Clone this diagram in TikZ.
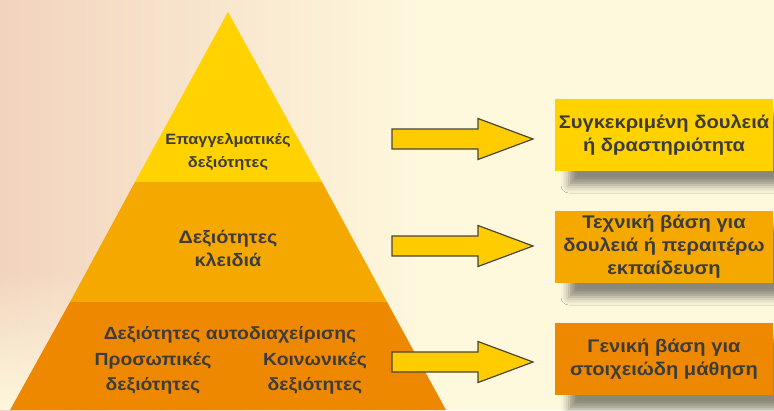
\documentclass[tikz,border=0pt]{standalone}
\usepackage{fontspec}
\setmainfont{Liberation Sans}[FakeStretch=1.1]
\usetikzlibrary{positioning,shadows.blur,fadings}

\definecolor{tierTop}{HTML}{FFD200}
\definecolor{tierMid}{HTML}{F5A800}
\definecolor{tierLow}{HTML}{EE8800}
\definecolor{arrowFill}{HTML}{FFCC00}
\definecolor{inkGray}{HTML}{3C3C3C}
\definecolor{arrowEdge}{HTML}{4A4638}
\definecolor{creamBg}{HTML}{FEF8DD}
\definecolor{peachBg}{HTML}{F2D3BE}

\tikzset{
    pics/fatarrow/.style={code={
        \draw[draw=arrowEdge, line width=1.2pt, fill=arrowFill, line join=miter]
            (0,-10) -- (86,-10) -- (86,-20.5) -- (141,0) -- (86,20.5)
            -- (86,10) -- (0,10) -- cycle;
    }}
}

\begin{document}
\begin{tikzpicture}[x=1pt,y=-1pt,
        tiertext/.style={font=\bfseries\fontsize{18}{23}\selectfont, text=inkGray,
                        align=center, inner sep=0pt},
        toptext/.style={tiertext, font=\bfseries\fontsize{14.9}{23}\selectfont},
        lowtext/.style={tiertext, font=\bfseries\fontsize{17.6}{25}\selectfont},
        goalbox/.style={tiertext, font=\bfseries\fontsize{18.3}{23}\selectfont,
                        minimum width=218pt, minimum height=72pt,
                        blur shadow={shadow xshift=14pt, shadow yshift=-14pt,
                                     shadow opacity=45, shadow blur radius=8pt}}]
    \useasboundingbox (0,0) rectangle (774,410);
    \fill[creamBg] (0,0) rectangle (774,410);
    \shade[left color=peachBg, right color=creamBg] (0,0) rectangle (420,410);
    \fill[creamBg, path fading=north] (0,270) rectangle (140,410);

    % pyramid corners
    \coordinate (apex) at (228,12);
    \coordinate (tl) at (135,182);
    \coordinate (tr) at (322,182);
    \coordinate (ml) at (70,302);
    \coordinate (mr) at (387,302);
    \coordinate (bl) at (10,410);
    \coordinate (br) at (446,410);

    \fill[tierTop] (apex) -- (tr) -- (tl) -- cycle;
    \fill[tierMid] (tl) -- (tr) -- (mr) -- (ml) -- cycle;
    \fill[tierLow] (ml) -- (mr) -- (br) -- (bl) -- cycle;

    \node[toptext] (top) at (228,151.5) {Επαγγελματικές\\δεξιότητες};
    \node[tiertext] (mid) at (228,248) {Δεξιότητες\\κλειδιά};
    \node[lowtext] (low) at (230,335) {Δεξιότητες αυτοδιαχείρισης};
    \node[lowtext] (pers) at (153,373.5) {Προσωπικές\\δεξιότητες};
    \node[lowtext] (soc) at (315,373.5) {Κοινωνικές\\δεξιότητες};

    % arrows
    \pic (a1) at (392,139) {fatarrow};
    \pic (a2) at (392,246) {fatarrow};
    \pic (a3) at (392,362) {fatarrow};

    % boxes
    \node[goalbox, fill=tierTop] (g1) at (664,135) {Συγκεκριμένη δουλειά\\ή δραστηριότητα};
    \node[goalbox, fill=tierMid] (g2) at (664,247) {Τεχνική βάση για\\δουλειά ή περαιτέρω\\εκπαίδευση};
    \node[goalbox, fill=tierLow] (g3) at (664,359) {Γενική βάση για\\στοιχειώδη μάθηση};
\end{tikzpicture}
\end{document}
